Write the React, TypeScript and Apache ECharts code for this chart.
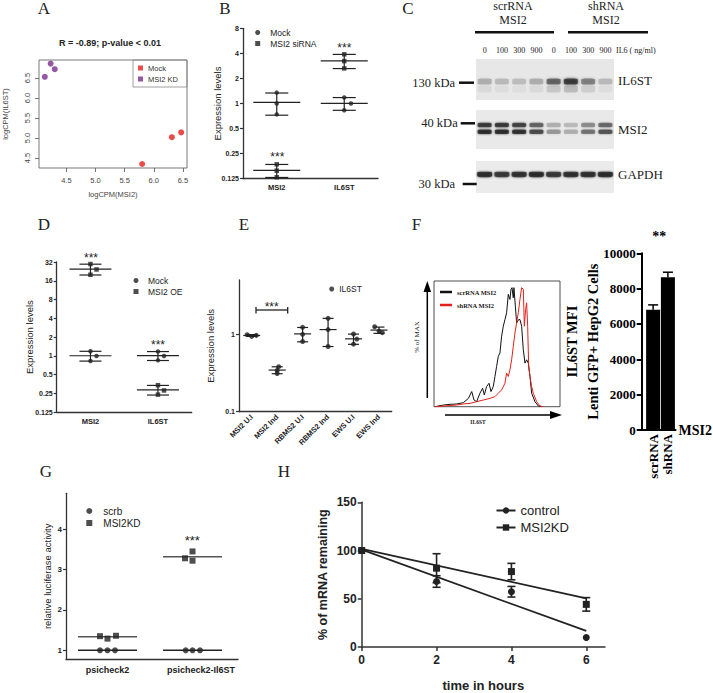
import React, { useEffect, useRef } from 'react';
import * as echarts from 'echarts';

// ---------------- Data ----------------
// Panel A: logCPM scatter
const aMockMSI2 = [5.8, 6.31, 6.47];
const aMockIL6ST = [4.35, 5.02, 5.14];
const aKdMSI2 = [4.13, 4.23, 4.3];
const aKdIL6ST = [6.53, 6.86, 6.72];
const aTicks = [4.5, 5.0, 5.5, 6.0, 6.5];

// Panel B: qPCR after MSI2 siRNA
const bCategories = ['MSI2', 'IL6ST'];
const bMock = [[1.35, 1.0, 0.74], [1.18, 1.0, 0.83]];
const bSiRNA = [[0.186, 0.156, 0.13], [3.9, 3.23, 2.64]];

// Panel C: western blot band intensities (0..1)
const cLanes = ['0', '100', '300', '900', '0', '100', '300', '900'];
const cIL6ST = [0.3, 0.22, 0.2, 0.27, 0.62, 0.85, 0.5, 0.22];
const cMSI2Upper = [0.85, 0.85, 0.8, 0.62, 0.3, 0.22, 0.45, 0.6];
const cMSI2Lower = [0.92, 0.92, 0.9, 0.75, 0.4, 0.3, 0.55, 0.7];
const cGAPDH = [0.92, 0.85, 0.9, 0.92, 0.85, 0.9, 0.9, 0.92];

// Panel D: MSI2 overexpression
const dCategories = ['MSI2', 'IL6ST'];
const dMock = [[1.19, 1.0, 0.83], [1.18, 1.0, 0.85]];
const dOE = [[29.7, 24.3, 20.0], [0.34, 0.28, 0.24]];

// Panel E: IL6ST levels
const eCategories = ['MSI2 U.I', 'MSI2 Ind', 'RBMS2 U.I', 'RBMS2 Ind', 'EWS U.I', 'EWS Ind'];
const eIL6ST = [[0.98, 0.93, 0.96], [0.38, 0.34, 0.31], [1.22, 0.99, 0.8], [1.59, 1.14, 0.69], [1.0, 0.86, 0.74], [1.24, 1.09, 1.04]];

// Panel F: flow histogram (IL6ST intensity, % of max) and MFI bars
const fScrX = [8, 73, 125, 177, 229, 268, 294, 312, 332, 358, 379, 392, 410, 429, 444, 462, 475, 488, 501, 514, 527, 540, 553, 566, 579, 592, 600, 608, 618, 623, 634, 644, 660, 670, 683, 696, 709, 722, 735, 748, 761, 787, 813, 839];
const fScrY = [0, 1.4, 2.0, 2.3, 3.4, 7.0, 12.7, 5.6, 4.2, 11.3, 15.5, 9.9, 16.9, 19.7, 12.7, 16.9, 25.4, 33.8, 42.3, 45.1, 59.2, 67.6, 73.2, 78.9, 94.4, 90.1, 98.6, 100, 91.5, 100, 84.5, 70.4, 73.2, 73.2, 67.6, 47.9, 36.6, 39.4, 36.6, 25.4, 11.3, 4.2, 0.6, 0];
const fShX = [8, 73, 177, 229, 281, 332, 384, 436, 475, 501, 527, 553, 566, 579, 592, 605, 618, 631, 644, 657, 670, 683, 696, 704, 714, 722, 730, 738, 748, 761, 774, 800, 826, 852];
const fShY = [0, 0.6, 1.4, 2.3, 2.8, 4.2, 5.6, 7.0, 8.5, 11.3, 14.1, 19.7, 28.2, 25.4, 31.0, 39.4, 50.7, 62.0, 70.4, 78.9, 90.1, 100, 98.6, 67.6, 81.7, 87.3, 67.6, 33.8, 25.4, 16.9, 11.3, 4.2, 0.6, 0];
const fCategories = ['scrRNA', 'shRNA'];
const fMFI = [6800, 8650];
const fMFIErr = [280, 280];

// Panel G: luciferase
const gCategories = ['psicheck2', 'psicheck2-Il6ST'];
const gScrb = [[1, 1, 1], [1, 1, 1]];
const gMSI2KD = [[1.35, 1.29, 1.36], [3.28, 3.45, 3.22]];

// Panel H: mRNA decay
const hTime = [0, 2, 4, 6];
const hControl = [100, 67.9, 57.3, 9.9];
const hControlErr = [0, 6, 5.5, 0];
const hMSI2KD = [100, 81.7, 78.2, 44.2];
const hMSI2KDErr = [0, 15, 8.5, 7];

// ---------------- Helpers ----------------
const SANS = 'Liberation Sans, Arial, Helvetica, sans-serif';
const SERIF = 'Liberation Serif, Times New Roman, serif';
const INK = '#222';
const RED = '#e3201b';
const PURPLE = '#7a2c8c';

const mean = (a: number[]) => a.reduce((s, v) => s + v, 0) / a.length;
const sd = (a: number[]) => {
  const m = mean(a);
  return Math.sqrt(a.reduce((s, v) => s + (v - m) ** 2, 0) / (a.length - 1));
};
const L2 = (v: number) => Math.log2(v);
const L10 = (v: number) => Math.log10(v);
const ident = (v: number) => v;
const pretty = (v: number) => String(+v.toPrecision(6));
const strip = (n: string) => n.slice(n.indexOf(':') + 1);

function linFit(xs: number[], ys: number[]) {
  const mx = mean(xs), my = mean(ys);
  let num = 0, den = 0;
  xs.forEach((x, i) => { num += (x - mx) * (ys[i] - my); den += (x - mx) ** 2; });
  const k = num / den;
  return { k, b: my - k * mx };
}

function errSeries(name: string, idx: number, data: number[][], halfMean: number, halfCap: number,
  opts: { color?: string; width?: number; bars?: boolean } = {}) {
  const color = opts.color ?? INK;
  const width = opts.width ?? 1.2;
  const bars = opts.bars ?? true;
  return {
    type: 'custom', name, xAxisIndex: idx, yAxisIndex: idx, silent: true, z: 3,
    encode: { x: 0, y: [1, 2, 3] },
    data,
    renderItem: (_p: any, api: any) => {
      const x = api.value(0), m = api.value(1), lo = api.value(2), hi = api.value(3);
      const pm = api.coord([x, m]), pl = api.coord([x, lo]), ph = api.coord([x, hi]);
      const style = { stroke: color, lineWidth: width, fill: 'none' };
      const ch: any[] = [];
      if (halfMean > 0) ch.push({ type: 'line', shape: { x1: pm[0] - halfMean, y1: pm[1], x2: pm[0] + halfMean, y2: pm[1] }, style });
      if (bars) {
        ch.push({ type: 'line', shape: { x1: pl[0], y1: pl[1], x2: ph[0], y2: ph[1] }, style });
        ch.push({ type: 'line', shape: { x1: ph[0] - halfCap, y1: ph[1], x2: ph[0] + halfCap, y2: ph[1] }, style });
        if (lo !== m) ch.push({ type: 'line', shape: { x1: pl[0] - halfCap, y1: pl[1], x2: pl[0] + halfCap, y2: pl[1] }, style });
      }
      return { type: 'group', children: ch };
    },
  };
}

function colPoints(name: string, idx: number, groups: number[][], dodge: number[][], tf: (v: number) => number, symbol: string, size: number) {
  return {
    type: 'scatter', name, xAxisIndex: idx, yAxisIndex: idx, symbol, symbolSize: size, z: 4,
    itemStyle: { color: INK },
    data: groups.flatMap((g, c) => g.map((v, k) => [c + dodge[c][k], tf(v)])),
  };
}
const colStats = (groups: number[][], tf: (v: number) => number) =>
  groups.map((g, c) => { const m = mean(g), s = sd(g); return [c, tf(m), tf(m - s), tf(m + s)]; });
const colMeans = (groups: number[][], tf: (v: number) => number) =>
  groups.map((g, c) => { const m = tf(mean(g)); return [c, m, m, m]; });

function bandSeries(name: string, gi: number, intens: number[], yPos: number, size: number[], blur: number) {
  return {
    type: 'scatter', name, xAxisIndex: gi, yAxisIndex: gi, symbol: 'roundRect', symbolSize: size, silent: true,
    data: intens.map((a, i) => ({
      value: [i, yPos],
      itemStyle: { color: `rgba(25,25,25,${a})`, shadowBlur: blur, shadowColor: `rgba(25,25,25,${a})` },
    })),
  };
}

const txt = (text: string, x: number, y: number, o: any = {}) => ({
  type: 'text', x, y, rotation: o.rotation ?? 0, silent: true,
  style: {
    text, fill: o.fill ?? INK, fontSize: o.size ?? 10, fontFamily: o.family ?? SANS,
    fontWeight: o.weight ?? 'normal', align: o.align ?? 'center', verticalAlign: o.valign ?? 'middle',
  },
});
const seg = (x1: number, y1: number, x2: number, y2: number, w = 1, c = INK) => ({
  type: 'line', silent: true, shape: { x1, y1, x2, y2 }, style: { stroke: c, lineWidth: w },
});

const boldTick = { fontSize: 7, fontWeight: 'bold', color: INK, fontFamily: SANS };
const axLine = (w = 1.2, c = '#333') => ({ show: true, onZero: false, lineStyle: { color: c, width: w } });
const noLine = { show: false, onZero: false };

function buildOption() {
  const hFitC = linFit(hTime, hControl);
  const hFitK = linFit(hTime, hMSI2KD);

  const grid = [
    { left: 35, top: 60, width: 152, height: 108, show: true, borderColor: '#555', borderWidth: 0.8 }, // A
    { left: 243, top: 28.3, width: 135, height: 150.4 }, // B
    { left: 476, top: 59, width: 138, height: 41, show: true, backgroundColor: '#e7e7e7', borderWidth: 0 }, // C1
    { left: 476, top: 110, width: 138, height: 39, show: true, backgroundColor: '#e9e9e9', borderWidth: 0 }, // C2
    { left: 476, top: 161, width: 138, height: 32, show: true, backgroundColor: '#ebebeb', borderWidth: 0 }, // C3
    { left: 56.7, top: 262, width: 135, height: 150.3 }, // D
    { left: 239, top: 280, width: 152.7, height: 131.7 }, // E
    { left: 434, top: 281, width: 126, height: 125.7, show: true, borderColor: '#222', borderWidth: 0.8 }, // F hist
    { left: 641.7, top: 253.3, width: 40.3, height: 176.7 }, // F bar
    { left: 66, top: 493.3, width: 172, height: 166 }, // G
    { left: 361.7, top: 502.3, width: 243.3, height: 156 }, // H
  ];

  const hidden = (gi: number, min: number, max: number) => ({ gridIndex: gi, type: 'value', min, max, show: false });
  const catLabel = (cats: string[]) => (v: number) => cats[Math.round(v)] ?? '';
  const nm = { nameLocation: 'middle', nameMoveOverlap: false };

  const xAxis: any[] = [
    { gridIndex: 0, type: 'value', min: 4.03, max: 6.57, axisLine: noLine, splitLine: { show: false },
      axisTick: { show: true, length: 4, customValues: aTicks, lineStyle: { color: '#555', width: 0.8 } },
      axisLabel: { customValues: aTicks, formatter: (v: number) => v.toFixed(1), fontSize: 7.5, color: '#444', margin: 8 },
      name: 'logCPM(MSI2)', ...nm, nameGap: 22, nameTextStyle: { fontSize: 7.5, color: '#444' } },
    { gridIndex: 1, type: 'value', min: -0.5, max: 1.5, axisLine: axLine(1.3), axisTick: { show: false }, splitLine: { show: false },
      axisLabel: { customValues: [0, 1], formatter: catLabel(bCategories), ...boldTick, fontSize: 7.5, margin: 5 } },
    { gridIndex: 2, type: 'category', data: cLanes, position: 'top', axisLine: { show: false }, axisTick: { show: false },
      axisLabel: { fontSize: 8, fontFamily: SERIF, color: INK, margin: 5, interval: 0 } },
    { gridIndex: 3, type: 'category', data: cLanes, show: false },
    { gridIndex: 4, type: 'category', data: cLanes, show: false },
    { gridIndex: 5, type: 'value', min: -0.5, max: 1.5, axisLine: axLine(1.3), axisTick: { show: false }, splitLine: { show: false },
      axisLabel: { customValues: [0, 1], formatter: catLabel(dCategories), ...boldTick, fontSize: 7.5, margin: 5 } },
    { gridIndex: 6, type: 'value', min: -0.5, max: 5.5, axisLine: axLine(1.3), axisTick: { show: false }, splitLine: { show: false },
      axisLabel: { customValues: [0, 1, 2, 3, 4, 5], formatter: catLabel(eCategories), ...boldTick, fontSize: 7.5, rotate: 45, margin: 4 } },
    hidden(7, 0, 982),
    { gridIndex: 8, type: 'value', min: -0.773, max: 1.517, axisLine: axLine(2, '#000'), axisTick: { show: false }, splitLine: { show: false },
      axisLabel: { customValues: [0, 1], formatter: catLabel(fCategories), rotate: 90, fontFamily: SERIF, fontWeight: 'bold', fontSize: 13, color: '#000', margin: 4 },
      name: 'MSI2', nameLocation: 'end', nameGap: 3, nameTextStyle: { fontFamily: SERIF, fontWeight: 'bold', fontSize: 14, color: '#000' } },
    { gridIndex: 9, type: 'value', min: -0.488, max: 1.535, axisLine: axLine(1.3), axisTick: { show: false }, splitLine: { show: false },
      axisLabel: { customValues: [0, 1.1], formatter: catLabel(gCategories), ...boldTick, fontSize: 9, margin: 6 } },
    { gridIndex: 10, type: 'value', min: 0, max: 6.5, axisLine: axLine(1.5), splitLine: { show: false },
      axisTick: { show: true, customValues: hTime, length: 4, lineStyle: { width: 1.5 } },
      axisLabel: { customValues: hTime, ...boldTick, fontSize: 12, margin: 7 },
      name: 'time in hours', ...nm, nameGap: 32, nameTextStyle: { fontSize: 13, fontWeight: 'bold', color: INK } },
  ];

  const yAxis: any[] = [
    { gridIndex: 0, type: 'value', min: 4.25, max: 6.95, axisLine: noLine, splitLine: { show: false },
      axisTick: { show: true, length: 4, customValues: aTicks, lineStyle: { color: '#555', width: 0.8 } },
      axisLabel: { customValues: aTicks, formatter: (v: number) => v.toFixed(1), fontSize: 7.5, color: '#444', margin: 8, rotate: 90 },
      name: 'logCPM(IL6ST)', ...nm, nameGap: 30, nameTextStyle: { fontSize: 7.5, color: '#444' } },
    { gridIndex: 1, type: 'value', min: -3, max: 3, interval: 1, axisLine: axLine(1.3), splitLine: { show: false },
      axisTick: { show: true, length: 3, lineStyle: { width: 1.2 } },
      axisLabel: { formatter: (v: number) => pretty(2 ** v), ...boldTick, margin: 4 },
      name: 'Expression levels', ...nm, nameGap: 20.5, nameTextStyle: { fontSize: 9.5, color: INK } },
    hidden(2, 0, 1), hidden(3, 0, 1), hidden(4, 0, 1),
    { gridIndex: 5, type: 'value', min: -3, max: 5, interval: 1, axisLine: axLine(1.3), splitLine: { show: false },
      axisTick: { show: true, length: 3, lineStyle: { width: 1.2 } },
      axisLabel: { formatter: (v: number) => pretty(2 ** v), ...boldTick, margin: 4 },
      name: 'Expression levels', ...nm, nameGap: 22, nameTextStyle: { fontSize: 9.5, color: INK } },
    { gridIndex: 6, type: 'value', min: -1, max: 0.695, axisLine: axLine(1.3), splitLine: { show: false },
      axisTick: { show: true, length: 3, customValues: [-1, 0], lineStyle: { width: 1.2 } },
      axisLabel: { customValues: [-1, 0], formatter: (v: number) => pretty(10 ** v), ...boldTick, margin: 4 },
      name: 'Expression levels', ...nm, nameGap: 24, nameTextStyle: { fontSize: 9.5, color: INK } },
    hidden(7, 0, 105.6),
    { gridIndex: 8, type: 'value', min: 0, max: 10000, interval: 2000, axisLine: axLine(2, '#000'), splitLine: { show: false },
      axisTick: { show: true, length: 5, lineStyle: { width: 2, color: '#000' } },
      axisLabel: { formatter: (v: number) => String(v), fontFamily: SERIF, fontWeight: 'bold', fontSize: 13, color: '#000', margin: 6 },
      name: 'IL6ST MFI\nLenti GFP+ HepG2 Cells', ...nm, nameGap: 38,
      nameTextStyle: { fontFamily: SERIF, fontWeight: 'bold', fontSize: 14.5, color: '#000', lineHeight: 21 } },
    { gridIndex: 9, type: 'value', min: 0.777, max: 4.89, axisLine: axLine(1.3), splitLine: { show: false },
      axisTick: { show: true, length: 3, customValues: [1, 2, 3, 4], lineStyle: { width: 1.2 } },
      axisLabel: { customValues: [1, 2, 3, 4], ...boldTick, fontSize: 8, margin: 4 },
      name: 'relative luciferase activity', ...nm, nameGap: 14, nameTextStyle: { fontSize: 9.5, color: INK } },
    { gridIndex: 10, type: 'value', min: 0, max: 150, interval: 50, axisLine: axLine(1.5), splitLine: { show: false },
      axisTick: { show: true, length: 4, lineStyle: { width: 1.5 } },
      axisLabel: { ...boldTick, fontSize: 12, margin: 5 },
      name: '% of mRNA remaining', ...nm, nameGap: 32, nameTextStyle: { fontSize: 12.5, fontWeight: 'bold', color: INK } },
  ];

  const series: any[] = [
    // A
    { type: 'scatter', name: 'A:Mock', xAxisIndex: 0, yAxisIndex: 0, symbolSize: 6, itemStyle: { color: RED },
      data: aMockMSI2.map((x, i) => [x, aMockIL6ST[i]]) },
    { type: 'scatter', name: 'A:MSI2 KD', xAxisIndex: 0, yAxisIndex: 0, symbolSize: 6, itemStyle: { color: PURPLE },
      data: aKdMSI2.map((x, i) => [x, aKdIL6ST[i]]) },
    // B
    colPoints('B:Mock', 1, bMock, [[0, 0, 0], [0, 0.1, 0]], L2, 'circle', 4.5),
    colPoints('B:MSI2 siRNA', 1, bSiRNA, [[0, 0, 0], [0, 0, 0]], L2, 'rect', 4.5),
    errSeries('B:mock stats', 1, colStats(bMock, L2), 23.5, 11.5),
    errSeries('B:siRNA stats', 1, colStats(bSiRNA, L2), 23.5, 11.5),
    // C
    bandSeries('C:IL6ST', 2, cIL6ST, 0.45, [14, 6], 3),
    bandSeries('C:IL6ST smear', 2, cIL6ST.map((a) => a * 0.25), 0.27, [14, 7], 4),
    bandSeries('C:MSI2 upper', 3, cMSI2Upper, 0.615, [14, 4.5], 2),
    bandSeries('C:MSI2 lower', 3, cMSI2Lower, 0.44, [14, 4.5], 2),
    bandSeries('C:GAPDH', 4, cGAPDH, 0.58, [15, 5.5], 2),
    // D
    colPoints('D:Mock', 5, dMock, [[0, 0.09, 0], [0, 0.09, 0]], L2, 'circle', 4.5),
    colPoints('D:MSI2 OE', 5, dOE, [[0, 0.09, 0], [0, 0.09, 0]], L2, 'rect', 4.5),
    errSeries('D:mock stats', 5, colStats(dMock, L2), 21, 11),
    errSeries('D:oe stats', 5, colStats(dOE, L2), 21, 11),
    // E
    colPoints('E:IL6ST', 6, eIL6ST, [[-0.18, 0, 0.18], [0.06, 0, 0], [0, 0, 0], [0, 0, 0], [0, 0.13, 0], [-0.17, 0, 0.13]], L10, 'circle', 5),
    errSeries('E:stats', 6, colStats(eIL6ST, L10), 8.5, 5.5),
    // F histogram
    { type: 'line', name: 'F:scrRNA MSI2', xAxisIndex: 7, yAxisIndex: 7, symbol: 'none', silent: true,
      lineStyle: { color: '#111', width: 1 }, itemStyle: { color: '#111' }, data: fScrX.map((x, i) => [x, fScrY[i]]) },
    { type: 'line', name: 'F:shRNA MSI2', xAxisIndex: 7, yAxisIndex: 7, symbol: 'none', silent: true,
      lineStyle: { color: RED, width: 1 }, itemStyle: { color: RED }, data: fShX.map((x, i) => [x, fShY[i]]) },
    // F bars
    { type: 'bar', name: 'F:MFI', xAxisIndex: 8, yAxisIndex: 8, barWidth: 14, itemStyle: { color: '#000' },
      data: fMFI.map((v, i) => [i, v]) },
    errSeries('F:err', 8, fMFI.map((v, i) => [i, v, v, v + fMFIErr[i]]), 0, 5, { color: '#000', width: 1.5 }),
    // G
    colPoints('G:scrb', 9, gScrb, [[-0.088, 0, 0.088], [-0.08, 0, 0.088]], ident, 'circle', 6),
    colPoints('G:MSI2KD', 9, gMSI2KD, [[-0.088, 0, 0.1], [-0.088, 0, 0]], ident, 'rect', 6),
    errSeries('G:scrb mean', 9, colMeans(gScrb, ident), 29.5, 0, { bars: false, width: 1.5 }),
    errSeries('G:kd mean', 9, colMeans(gMSI2KD, ident), 29.5, 0, { bars: false, width: 1.5, color: '#555' }),
    // H
    { type: 'line', name: 'H:control', xAxisIndex: 10, yAxisIndex: 10, symbol: 'circle', symbolSize: 7, z: 4,
      lineStyle: { width: 0, color: INK }, itemStyle: { color: INK }, data: hTime.map((t, i) => [t, hControl[i]]) },
    { type: 'line', name: 'H:MSI2KD', xAxisIndex: 10, yAxisIndex: 10, symbol: 'rect', symbolSize: 7, z: 4,
      lineStyle: { width: 0, color: INK }, itemStyle: { color: INK }, data: hTime.map((t, i) => [t, hMSI2KD[i]]) },
    errSeries('H:control err', 10, hTime.map((t, i) => [t, hControl[i], hControl[i] - hControlErr[i], hControl[i] + hControlErr[i]]).filter((_, i) => hControlErr[i] > 0), 0, 4, { width: 1.6 }),
    errSeries('H:kd err', 10, hTime.map((t, i) => [t, hMSI2KD[i], hMSI2KD[i] - hMSI2KDErr[i], hMSI2KD[i] + hMSI2KDErr[i]]).filter((_, i) => hMSI2KDErr[i] > 0), 0, 4, { width: 1.6 }),
    { type: 'line', name: 'H:control fit', xAxisIndex: 10, yAxisIndex: 10, symbol: 'none', silent: true,
      lineStyle: { color: INK, width: 1.8 }, data: [[0, hFitC.b], [6, hFitC.b + 6 * hFitC.k]] },
    { type: 'line', name: 'H:kd fit', xAxisIndex: 10, yAxisIndex: 10, symbol: 'none', silent: true,
      lineStyle: { color: INK, width: 1.8 }, data: [[0, hFitK.b], [6, hFitK.b + 6 * hFitK.k]] },
  ];

  const legBase = { orient: 'vertical', selectedMode: false, padding: 0, formatter: strip };
  const legend: any[] = [
    { ...legBase, data: [{ name: 'A:Mock', icon: 'rect' }, { name: 'A:MSI2 KD', icon: 'rect' }], left: 133, top: 60,
      itemWidth: 5, itemHeight: 5, itemGap: 3, padding: [4, 9, 4, 5], borderColor: '#888', borderWidth: 0.8,
      textStyle: { fontSize: 7.5, color: '#333', fontFamily: SANS } },
    { ...legBase, data: [{ name: 'B:Mock', icon: 'circle' }, { name: 'B:MSI2 siRNA', icon: 'rect' }], left: 255.2, top: 28,
      itemWidth: 5, itemHeight: 5, itemGap: 2, textStyle: { fontSize: 8.5, color: INK, fontFamily: SANS, padding: [0, 0, 0, 5] } },
    { ...legBase, data: [{ name: 'D:Mock', icon: 'circle' }, { name: 'D:MSI2 OE', icon: 'rect' }], left: 133.5, top: 276,
      itemWidth: 5, itemHeight: 5, itemGap: 2, textStyle: { fontSize: 8.5, color: INK, fontFamily: SANS, padding: [0, 0, 0, 4.5] } },
    { ...legBase, data: [{ name: 'E:IL6ST', icon: 'circle' }], left: 329.2, top: 284.5,
      itemWidth: 5, itemHeight: 5, textStyle: { fontSize: 8.5, color: INK, fontFamily: SANS } },
    { ...legBase, data: [{ name: 'F:scrRNA MSI2', icon: 'rect' }, { name: 'F:shRNA MSI2', icon: 'rect' }], left: 440, top: 288.5,
      itemWidth: 12, itemHeight: 2.5, itemGap: 6, textStyle: { fontSize: 6.5, fontWeight: 'bold', color: INK, fontFamily: SERIF } },
    { ...legBase, data: [{ name: 'G:scrb', icon: 'circle' }, { name: 'G:MSI2KD', icon: 'rect' }], left: 86.3, top: 506,
      itemWidth: 6, itemHeight: 6, itemGap: 2, textStyle: { fontSize: 10, color: INK, fontFamily: SANS, padding: [0, 0, 0, 6] } },
    { ...legBase, data: ['H:control', 'H:MSI2KD'], left: 495.5, top: 504, itemWidth: 19, itemHeight: 8, itemGap: 4,
      lineStyle: { width: 2, color: INK }, textStyle: { fontSize: 13, color: INK, fontFamily: SANS } },
  ];

  const L = 17;
  const elements: any[] = [
    // panel letters
    txt('A', 44, 8.5, { size: L, family: SERIF }),
    txt('B', 225, 8.5, { size: L, family: SERIF }),
    txt('C', 408, 8.5, { size: L, family: SERIF }),
    txt('D', 44, 224, { size: L, family: SERIF }),
    txt('E', 244, 224, { size: L, family: SERIF }),
    txt('F', 416.5, 224, { size: L, family: SERIF }),
    txt('G', 46, 471, { size: L, family: SERIF }),
    txt('H', 284, 471, { size: L, family: SERIF }),
    // A title
    txt('R = -0.89; p-value < 0.01', 110, 43.3, { size: 9, weight: 'bold' }),
    // stars
    txt('***', 277.3, 157, { size: 12 }),
    txt('***', 344.3, 48, { size: 12 }),
    txt('***', 91, 258, { size: 12 }),
    txt('***', 158, 345, { size: 12 }),
    txt('***', 271.7, 307, { size: 12 }),
    seg(256, 310, 287.7, 310, 1.3), seg(256, 307, 256, 313.5, 1.3), seg(287.7, 307, 287.7, 313.5, 1.3),
    txt('***', 192.3, 540, { size: 13 }),
    txt('**', 659.3, 236, { size: 14, family: SERIF, weight: 'bold', fill: '#000' }),
    // C header
    txt('scrRNA', 513, 6, { size: 12, family: SERIF }),
    txt('MSI2', 513, 20, { size: 12, family: SERIF }),
    txt('shRNA', 606, 6, { size: 12, family: SERIF }),
    txt('MSI2', 606, 20, { size: 12, family: SERIF }),
    seg(475, 32.3, 554, 32.3, 2.5, '#111'),
    seg(568, 32.3, 648, 32.3, 2.5, '#111'),
    txt('IL6 ( ng/ml)', 616, 50, { size: 8, family: SERIF, align: 'left' }),
    txt('130 kDa', 455, 83.3, { size: 12.5, family: SERIF, align: 'right' }),
    seg(459, 82.7, 474, 82.7, 2.5, '#111'),
    txt('40 kDa', 457.7, 123.3, { size: 12.5, family: SERIF, align: 'right' }),
    seg(460.7, 123.3, 475, 123.3, 2.5, '#111'),
    txt('30 kDa', 455, 184, { size: 12.5, family: SERIF, align: 'right' }),
    seg(462.7, 184, 476.7, 184, 2.5, '#111'),
    txt('IL6ST', 618, 80, { size: 13, family: SERIF, align: 'left' }),
    txt('MSI2', 618, 129, { size: 13, family: SERIF, align: 'left' }),
    txt('GAPDH', 618, 174, { size: 13, family: SERIF, align: 'left' }),
    // F histogram frame extras
    seg(427.3, 398, 427.3, 289, 1.5, '#000'),
    { type: 'polygon', silent: true, shape: { points: [[423.5, 292], [427.3, 281], [431.1, 292]] }, style: { fill: '#000' } },
    seg(445, 415, 553, 415, 1.5, '#000'),
    { type: 'polygon', silent: true, shape: { points: [[550, 411], [562, 415], [550, 419]] }, style: { fill: '#000' } },
    txt('% of MAX', 416.7, 337, { size: 7, family: SERIF, rotation: Math.PI / 2 }),
    txt('IL6ST', 478, 421.5, { size: 5.5, family: SERIF, weight: 'bold' }),
  ];

  return {
    animation: false,
    backgroundColor: '#fff',
    textStyle: { fontFamily: SANS },
    grid, xAxis, yAxis, series, legend,
    graphic: { elements },
  };
}

export default function App() {
  const ref = useRef<HTMLDivElement>(null);
  useEffect(() => {
    if (!ref.current) return;
    const chart = echarts.init(ref.current, null, { renderer: 'svg' });
    chart.setOption(buildOption() as any);
    return () => chart.dispose();
  }, []);
  return <div ref={ref} style={{ position: 'fixed', left: 0, top: 0, width: 713, height: 693, background: '#fff' }} />;
}
